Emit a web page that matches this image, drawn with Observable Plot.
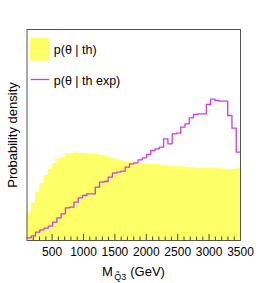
<!DOCTYPE html>
<html>
<head>
<meta charset="utf-8">
<script src="https://cdn.jsdelivr.net/npm/d3@7"></script>
<script src="https://cdn.jsdelivr.net/npm/@observablehq/plot@0.6"></script>
<style>
  html, body { margin: 0; padding: 0; background: #fff; }
  #chart svg { display: block; font-family: "Liberation Sans", Arial, Helvetica, sans-serif; }
</style>
</head>
<body>
<div id="chart"></div>
<script>
// Bin lower edges (GeV), last upper edge
const binLow = [100,168,236,304,372,440,508,576,644,712,780,848,916,984,1052,1120,1188,1256,1324,1392,
  1460,1528,1596,1664,1732,1800,1868,1936,2004,2072,2140,2208,2276,2344,2412,2480,2548,2616,2684,2752,
  2820,2888,2956,3024,3092,3160,3228,3296,3364,3432];
const binEnd = 3500;

// p(theta | th) — filled yellow histogram (arbitrary units)
const pTh = [27.7,37.3,48.3,56.7,65,71.3,76.7,81.7,83.3,86.7,86.7,87.7,87.3,86.7,86.7,86.3,86,85,84.3,82.5,
  81.7,80.7,79.5,78.5,78,77,76.7,76.5,76.7,76.3,76,75.3,75,74.3,74,73.8,73.7,73.2,72.7,72.5,
  71.7,72.3,72.3,72,72,71.5,71.3,71,71,72.3];

// p(theta | th exp) — purple line histogram (arbitrary units)
const pThExp = [2.7,4.7,8.3,10.7,12.3,14.3,18.3,22.7,26.7,32.7,33.3,38.3,42.7,45,46.7,46.7,53.3,58.3,59,63.3,
  67.3,68.3,69.3,73.3,76.7,77.7,80.7,82.7,86,90,91.7,93.3,101.7,96.7,106.7,107.3,113.3,116.7,122.7,126,
  126.7,126.7,136,141.3,140,139.3,139.3,125,112.3,88.3];

const majorTicks = [500,1000,1500,2000,2500,3000,3500];
const minorTicks = d3.range(200, 3500, 100).filter(v => v % 500 !== 0);
const legendLabels = ["p(θ | th)", "p(θ | th exp)"];
const yTitle = "Probability density";

const yellow = "#ffff66";
const purple = "#c83cf0";

const W = 266, H = 283, mL = 26.5, mR = 26, mT = 29, mB = 43;
const frameH = H - mT - mB;

const stepTh = binLow.map((x, i) => ({x, y: pTh[i]})).concat([{x: binEnd, y: pTh[pTh.length - 1]}]);
const stepExp = binLow.map((x, i) => ({x, y: pThExp[i]})).concat([{x: binEnd, y: pThExp[pThExp.length - 1]}]);

const plot = Plot.plot({
  width: W,
  height: H,
  marginLeft: mL,
  marginRight: mR,
  marginTop: mT,
  marginBottom: mB,
  style: {fontFamily: '"Liberation Sans", Arial, Helvetica, sans-serif', fontSize: "12px", background: "#fff", color: "#000"},
  x: {domain: [100, 3500], ticks: majorTicks, tickFormat: d => String(d), tickSize: 0, tickPadding: 7, label: null},
  y: {domain: [0, 211], axis: null},
  marks: [
    Plot.areaY(stepTh, {x: "x", y: "y", curve: "step-after", fill: yellow}),
    Plot.line(stepExp, {x: "x", y: "y", curve: "step-after", stroke: purple, strokeWidth: 1.3}),
    Plot.ruleX(majorTicks, {x: d => d, insetTop: frameH - 6, stroke: "#444"}),
    Plot.ruleX(minorTicks, {x: d => d, insetTop: frameH - 3.5, stroke: "#444"}),
    Plot.frame({stroke: "#555", strokeWidth: 1}),
    // y title
    Plot.text([yTitle], {frameAnchor: "left", textAnchor: "middle", lineAnchor: "middle", dx: -14.5, rotate: -90, fontSize: 13, fill: "#000"}),
    // x title: M_{Q~3} (GeV)
    Plot.text(["M"], {frameAnchor: "bottom", textAnchor: "start", lineAnchor: "bottom", dx: -31.8, dy: 35, fontSize: 13, fill: "#000"}),
    Plot.text(["Q\u03033"], {frameAnchor: "bottom", textAnchor: "start", lineAnchor: "bottom", dx: -19.5, dy: 39, fontSize: 9, fill: "#000"}),
    Plot.text(["(GeV)"], {frameAnchor: "bottom", textAnchor: "start", lineAnchor: "bottom", dx: -3.5, dy: 35, fontSize: 13, fill: "#000"}),
    // legend labels
    Plot.text([legendLabels[0]], {frameAnchor: "top-left", textAnchor: "start", lineAnchor: "middle", dx: 26.8, dy: 20, fontSize: 12.5, fill: "#000"}),
    Plot.text([legendLabels[1]], {frameAnchor: "top-left", textAnchor: "start", lineAnchor: "middle", dx: 26.8, dy: 51, fontSize: 12.5, fill: "#000"})
  ]
});

document.getElementById("chart").appendChild(plot);

// legend swatches
const svg = d3.select(plot);
svg.append("rect").attr("x", 30).attr("y", 37.7).attr("width", 19.3).attr("height", 23).attr("fill", yellow);
svg.append("line").attr("x1", 30.7).attr("x2", 49.3).attr("y1", 79.5).attr("y2", 79.5)
  .attr("stroke", purple).attr("stroke-width", 1.3);
</script>
</body>
</html>
